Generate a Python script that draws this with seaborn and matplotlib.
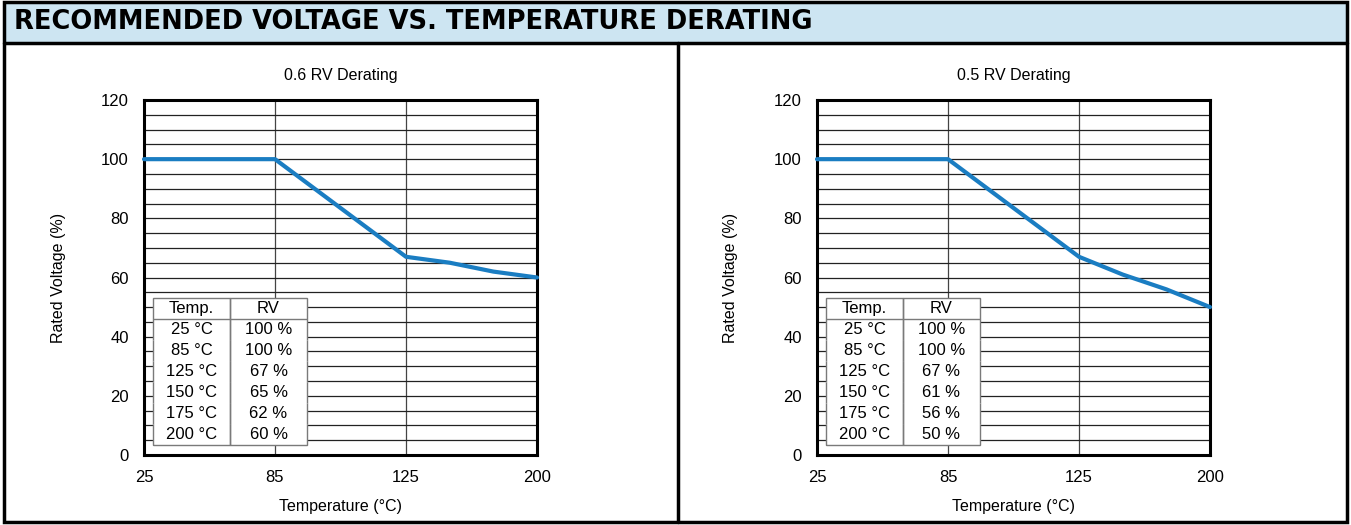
import numpy as np
import matplotlib
matplotlib.use('Agg')
import matplotlib.pyplot as plt
import seaborn as sns
import pandas as pd
from matplotlib.patches import Rectangle
from matplotlib.lines import Line2D

# ---- data ----
temps = [25, 85, 125, 150, 175, 200]
rv_06 = [100, 100, 67, 65, 62, 60]
rv_05 = [100, 100, 67, 61, 56, 50]
x_ticks = [25, 85, 125, 200]
y_ticks = [0, 20, 40, 60, 80, 100, 120]
panel_titles = ['0.6 RV Derating', '0.5 RV Derating']
main_title = 'RECOMMENDED VOLTAGE VS. TEMPERATURE DERATING'
temp_labels = ['25 °C', '85 °C', '125 °C', '150 °C', '175 °C', '200 °C']

sns.set_style('white')
plt.rcParams['font.family'] = ['Liberation Sans', 'DejaVu Sans']
plt.rcParams['text.color'] = 'black'
plt.rcParams['axes.labelcolor'] = 'black'
plt.rcParams['xtick.color'] = 'black'
plt.rcParams['ytick.color'] = 'black'

W, H = 1351, 525
fig = plt.figure(figsize=(W / 100, H / 100), dpi=100)

# frame and title bar
fig.add_artist(Rectangle((4 / W, 1 - 43 / H), 1343 / W, 41 / H, transform=fig.transFigure,
                         facecolor='#cde5f2', edgecolor='none', zorder=0))
fig.add_artist(Rectangle((4 / W, 1 - 522 / H), 1343 / W, 520 / H, transform=fig.transFigure,
                         facecolor='none', edgecolor='black', lw=2.5, zorder=5))
fig.add_artist(Line2D([4 / W, 1347 / W], [1 - 43 / H, 1 - 43 / H], transform=fig.transFigure,
                      color='black', lw=2.5, zorder=5))
fig.add_artist(Line2D([677.5 / W, 677.5 / W], [1 - 43 / H, 1 - 522 / H], transform=fig.transFigure,
                      color='black', lw=2.5, zorder=5))
fig.text(14 / W, 1 - 22 / H, main_title, fontsize=18.5, fontweight='bold', color='black',
         family=['DejaVu Sans'], va='center', ha='left')

fwd = lambda v: np.interp(v, x_ticks, np.arange(len(x_ticks)))
inv = lambda v: np.interp(v, np.arange(len(x_ticks)), x_ticks)

for i, (rv, ttl, left) in enumerate(zip([rv_06, rv_05], panel_titles, [144, 817])):
    ax = fig.add_axes([left / W, (H - 455) / H, 393 / W, 355 / H])
    ax.set_xscale('function', functions=(fwd, inv))
    df = pd.DataFrame({'Temperature': temps, 'RV': rv})
    sns.lineplot(data=df, x='Temperature', y='RV', ax=ax, color='#1a7dc2', lw=3,
                 zorder=4, clip_on=False)
    ax.set_xlim(25, 200)
    ax.set_ylim(0, 120)
    ax.set_xticks(x_ticks)
    ax.set_xticklabels([str(t) for t in x_ticks])
    ax.set_yticks(y_ticks)
    ax.set_yticks(np.arange(0, 121, 5), minor=True)
    ax.tick_params(axis='both', which='both', length=0, labelsize=12, labelcolor='black')
    ax.tick_params(axis='x', pad=11)
    ax.tick_params(axis='y', pad=11)
    ax.grid(True, axis='y', which='both', color='#222222', lw=0.9)
    ax.grid(True, axis='x', which='major', color='#444444', lw=0.9)
    ax.set_axisbelow(True)
    for s in ax.spines.values():
        s.set_visible(True)
        s.set_color('black')
        s.set_linewidth(2.2)
    ax.set_xlabel('Temperature (°C)', fontsize=11.5)
    ax.set_ylabel('Rated Voltage (%)', fontsize=11.5)
    ax.xaxis.set_label_coords(0.5, -(506 - 455) / 355)
    ax.xaxis.label.set_va('center')
    ax.yaxis.set_label_coords(-86 / 393, 0.5)
    ax.yaxis.label.set_va('center')
    ax.text(0.5, 1 + 25 / 355, ttl, transform=ax.transAxes, ha='center', va='center', fontsize=11.5)

    bbox = [9 / 393, 10 / 355, 154 / 393, 147 / 355]
    ax.add_patch(Rectangle((bbox[0], bbox[1]), bbox[2], bbox[3], transform=ax.transAxes,
                           facecolor='white', edgecolor='none', zorder=2.8))
    cell_text = [[t, f'{v} %'] for t, v in zip(temp_labels, rv)]
    tbl = ax.table(cellText=cell_text, colLabels=['Temp.', 'RV'], cellLoc='center', bbox=bbox)
    tbl.auto_set_font_size(False)
    tbl.set_fontsize(12)
    tbl.set_zorder(3)
    nrows = len(cell_text)
    for (r, c), cell in tbl.get_celld().items():
        cell.set_edgecolor('#7a7a7a')
        cell.set_linewidth(1.0)
        cell.set_facecolor('none')
        cell.get_text().set_color('black')
        if r == 0:
            cell.visible_edges = 'closed'
        elif r == nrows:
            cell.visible_edges = 'LRB'
        else:
            cell.visible_edges = 'LR'

fig.savefig('out.png', dpi=100)
